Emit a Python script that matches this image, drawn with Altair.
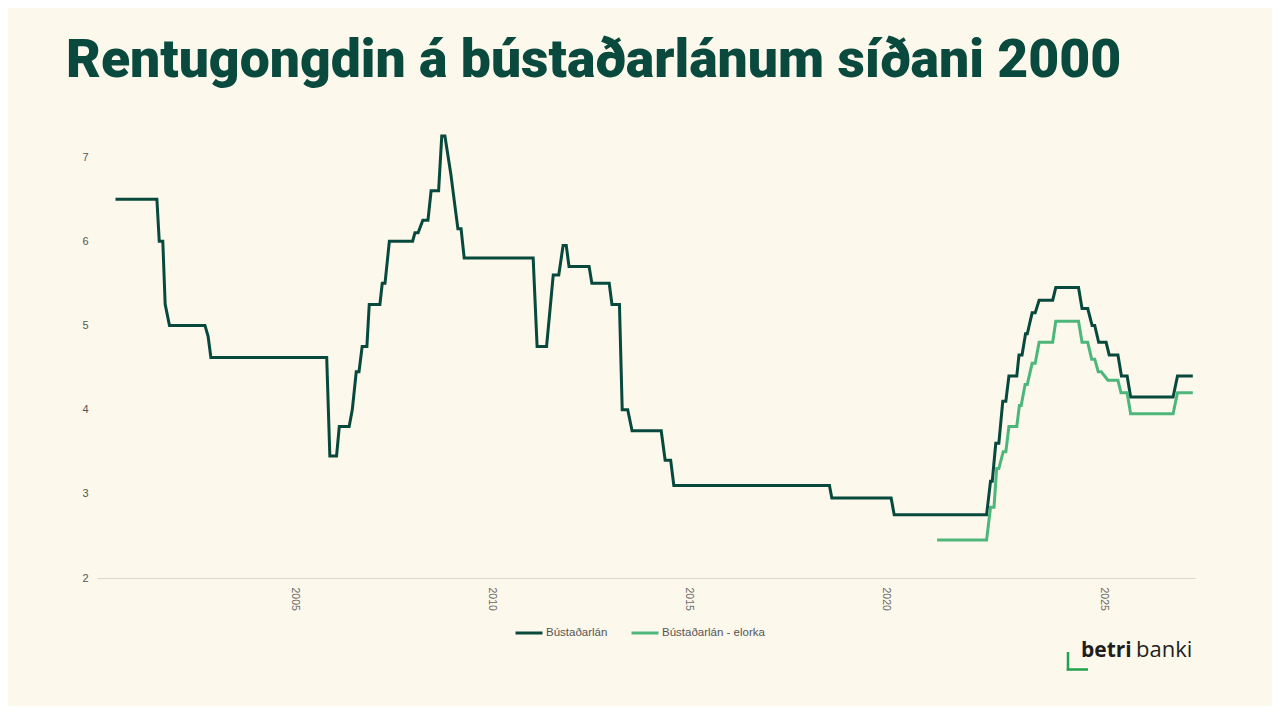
import pandas as pd
import altair as alt

# Bústaðarlán (decimal year, rate %)
year_main = [2000.47, 2001.52, 2001.58, 2001.67, 2001.73, 2001.84, 2002.74, 2002.82, 2002.89,
             2005.83, 2005.91, 2006.08, 2006.15, 2006.40, 2006.48, 2006.58, 2006.65, 2006.73,
             2006.85, 2006.91, 2007.18, 2007.24, 2007.31, 2007.42, 2008.01, 2008.07, 2008.15,
             2008.27, 2008.40, 2008.48, 2008.67, 2008.75, 2008.83, 2008.98, 2009.09, 2009.16,
             2009.24, 2009.32, 2011.07, 2011.17, 2011.41, 2011.48, 2011.58, 2011.72, 2011.83,
             2011.91, 2011.98, 2012.49, 2012.56, 2013.00, 2013.07, 2013.26, 2013.33, 2013.47,
             2013.58, 2014.32, 2014.42, 2014.56, 2014.64, 2018.59, 2018.65, 2020.14, 2020.21,
             2022.32, 2022.41, 2022.45, 2022.53, 2022.60, 2022.69, 2022.76, 2022.83, 2023.01,
             2023.06, 2023.13, 2023.21, 2023.25, 2023.36, 2023.43, 2023.52, 2023.83, 2023.90,
             2024.42, 2024.50, 2024.63, 2024.73, 2024.79, 2024.88, 2025.05, 2025.12, 2025.32,
             2025.40, 2025.53, 2025.61, 2026.58, 2026.68, 2027.03]
rate_main = [6.50, 6.50, 6.00, 6.00, 5.25, 5.00, 5.00, 4.87, 4.62,
             4.62, 3.45, 3.45, 3.80, 3.80, 4.00, 4.45, 4.45, 4.75,
             4.75, 5.25, 5.25, 5.50, 5.50, 6.00, 6.00, 6.10, 6.10,
             6.25, 6.25, 6.60, 6.60, 7.25, 7.25, 6.80, 6.40, 6.15,
             6.15, 5.80, 5.80, 4.75, 4.75, 5.10, 5.60, 5.60, 5.95,
             5.95, 5.70, 5.70, 5.50, 5.50, 5.25, 5.25, 4.00, 4.00,
             3.75, 3.75, 3.40, 3.40, 3.10, 3.10, 2.95, 2.95, 2.75,
             2.75, 3.15, 3.15, 3.60, 3.60, 4.10, 4.10, 4.40, 4.40,
             4.65, 4.65, 4.90, 4.90, 5.15, 5.15, 5.30, 5.30, 5.45,
             5.45, 5.20, 5.20, 5.00, 5.00, 4.80, 4.80, 4.65, 4.65,
             4.40, 4.40, 4.15, 4.15, 4.40, 4.40]

# Bústaðarlán - elorka
year_green = [2021.19, 2022.32, 2022.41, 2022.49, 2022.55, 2022.60, 2022.70, 2022.76, 2022.83,
              2023.01, 2023.07, 2023.11, 2023.20, 2023.25, 2023.36, 2023.43, 2023.52, 2023.83,
              2023.90, 2024.42, 2024.50, 2024.63, 2024.72, 2024.79, 2024.87, 2024.94, 2025.09,
              2025.32, 2025.39, 2025.53, 2025.61, 2026.58, 2026.68, 2027.03]
rate_green = [2.45, 2.45, 2.84, 2.84, 3.30, 3.30, 3.50, 3.50, 3.80,
              3.80, 4.05, 4.05, 4.30, 4.30, 4.55, 4.55, 4.80, 4.80,
              5.05, 5.05, 4.80, 4.80, 4.60, 4.60, 4.45, 4.45, 4.35,
              4.35, 4.20, 4.20, 3.95, 3.95, 4.20, 4.20]

series_names = ["Bústaðarlán", "Bústaðarlán - elorka"]
series_colors = ["#07493c", "#4db67b"]
year_ticks = [2005, 2010, 2015, 2020, 2025]

BG = "#fcf8eb"
TITLE_GREEN = "#0a4a3e"

data = pd.concat([
    pd.DataFrame({"year": year_main, "rate": rate_main, "series": series_names[0]}),
    pd.DataFrame({"year": year_green, "rate": rate_green, "series": series_names[1]}),
], ignore_index=True)

W, H = 1098, 463

x_axis = alt.X("year:Q", title=None,
               scale=alt.Scale(domain=[2000, 2020, 2027.08], range=[0, 788, W], nice=False, zero=False),
               axis=alt.Axis(values=year_ticks, format="d", labelAngle=90, ticks=False, grid=False,
                             domainColor="#d8d6cf", labelColor="#666666", labelFontSize=10.5,
                             labelPadding=9, labelFont="Liberation Sans"))
y_axis = alt.Y("rate:Q", title=None,
               scale=alt.Scale(domain=[2, 7.5], nice=False, zero=False),
               axis=alt.Axis(values=[2, 3, 4, 5, 6, 7], domain=False, ticks=False, grid=False,
                             labelColor="#555555", labelFontSize=11, labelPadding=9,
                             labelFont="Liberation Sans"))
color = alt.Color("series:N", title=None,
                  scale=alt.Scale(domain=series_names, range=series_colors),
                  legend=alt.Legend(orient="none", legendX=417, legendY=503, direction="horizontal",
                                    symbolType="stroke", symbolSize=729, symbolStrokeWidth=3,
                                    labelFont="Liberation Sans", labelFontSize=11.5, labelColor="#555555",
                                    labelOffset=2, columnPadding=17))

lines = alt.Chart(data).mark_line(strokeWidth=3).encode(x=x_axis, y=y_axis, color=color)

# betri banki logo
one = pd.DataFrame({"k": [0]})
logo_betri = alt.Chart(one).mark_text(text="betri", align="left", baseline="alphabetic",
                                      font="Open Sans", fontSize=21, fontWeight=700,
                                      color="#1e1e1e").encode(x=alt.value(984), y=alt.value(542))
logo_banki = alt.Chart(one).mark_text(text="banki", align="left", baseline="alphabetic",
                                      font="Open Sans", fontSize=22, fontWeight=400,
                                      color="#1e1e1e").encode(x=alt.value(1039), y=alt.value(542))
bracket_v = alt.Chart(one).mark_rule(color="#23a24d", strokeWidth=2.5).encode(
    x=alt.value(971), y=alt.value(537), y2=alt.value(555.5))
bracket_h = alt.Chart(one).mark_rule(color="#23a24d", strokeWidth=2.5).encode(
    x=alt.value(969.75), x2=alt.value(991), y=alt.value(554.5))

chart = alt.layer(lines, logo_betri, logo_banki, bracket_v, bracket_h).properties(
    width=W, height=H,
    autosize=alt.AutoSizeParams(type="none"),
    padding={"left": 89, "top": 107, "right": 77, "bottom": 128},
    background=BG,
    title=alt.Title("Rentugongdin á bústaðarlánum síðani 2000", anchor="start", frame="group",
                    dx=-31, offset=27, font="Roboto", fontSize=53.5, fontWeight=900, color=TITLE_GREEN),
).configure_view(stroke=None)

chart.save("out.html", embed_options={"renderer": "svg", "actions": False})
